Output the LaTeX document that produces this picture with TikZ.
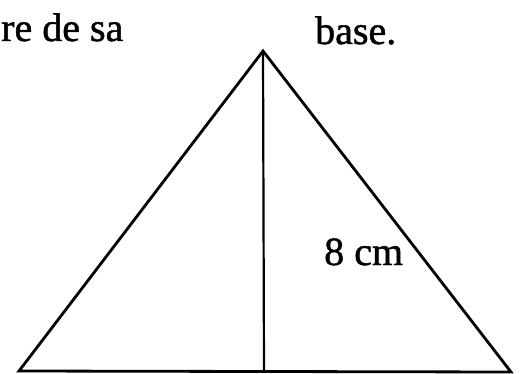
\documentclass[tikz,border=0pt]{standalone}
\usepackage{fontspec}
\setmainfont{Liberation Serif}
\newfontfamily\scanfont{Liberation Serif}[FakeBold=1.2]
\begin{document}
\begin{tikzpicture}[x=1pt,y=-1pt,
  lbl/.style={anchor=base west,inner sep=0pt,font=\scanfont\fontsize{40}{48}\selectfont},
  edge/.style={line width=2.8pt,line join=miter,line cap=butt},
  alt/.style={line width=2.2pt}]
\useasboundingbox (0,0) rectangle (532,374);
\coordinate (A) at (263,51);
\coordinate (B) at (19,371);
\coordinate (C) at (511,372);
\coordinate (H) at (264,372);
\draw[edge] (A) -- (B) -- (C) -- cycle;
\draw[alt] (A) -- (H);
\node[lbl] (t1) at (1,41) {re de sa};
\node[lbl] (t2) at (315,44) {base.};
\node[lbl] (t3) at (324,265) {8 cm};
\end{tikzpicture}
\end{document}
